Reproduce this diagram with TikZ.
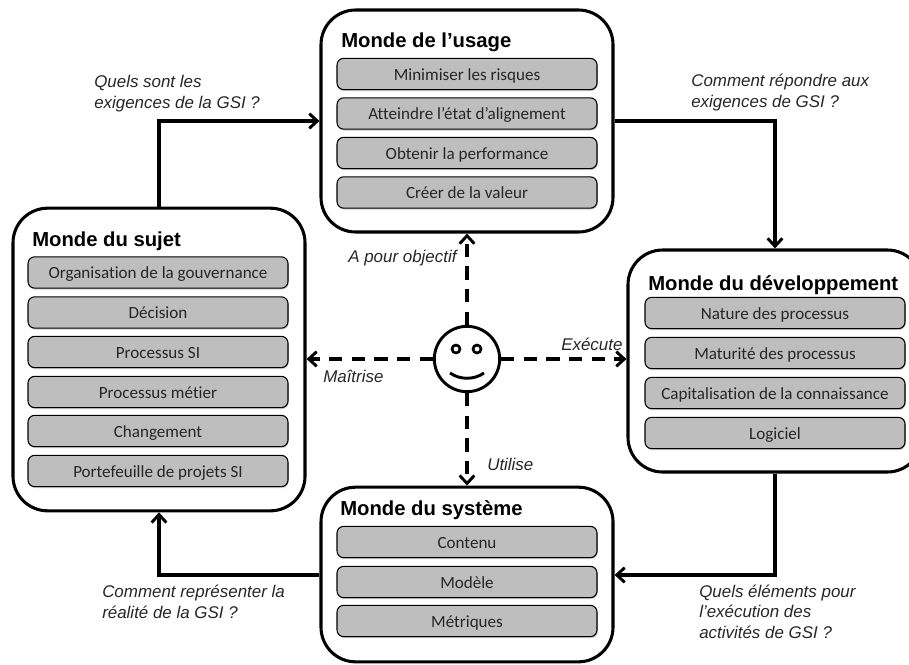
\documentclass[tikz,border=0pt]{standalone}
\usepackage{fontspec}
\setmainfont[Ligatures=NoCommon]{Carlito}
\newfontfamily\arialfont{Liberation Sans}
\usetikzlibrary{arrows.meta,shadows}
\definecolor{itemgray}{HTML}{BEBEBE}
\definecolor{itemtext}{HTML}{262626}
\tikzset{
    monde/.style={draw, line width=2.3pt, rounded corners=26pt, fill=white},
    titre/.style={anchor=base west, inner sep=0pt, font=\arialfont\bfseries\fontsize{15.2}{17}\selectfont},
    item/.style={draw=black, line width=0.8pt, fill=itemgray, text=itemtext, rounded corners=5pt, minimum width=195pt, minimum height=23.5pt, inner sep=0pt, text height=11pt, text depth=2pt, font=\fontsize{12.8}{14}\selectfont, drop shadow={shadow xshift=0.6pt, shadow yshift=-1pt, opacity=0.4}},
    flow/.style={line width=2.3pt, -{Straight Barb[length=6pt,width=11pt,line width=2.2pt]}},
    relation/.style={flow, dash pattern=on 10pt off 7pt},
    etiquette/.style={anchor=base west, inner sep=0pt, align=left, text=itemtext, font=\arialfont\itshape\fontsize{12.7}{15.2}\selectfont}
}
\begin{document}
\begin{tikzpicture}[x=0.75pt, y=-0.75pt]
    \useasboundingbox (0,0) rectangle (909,664);
    % mondes
    \node[monde, minimum width=219pt, minimum height=166.5pt] (usage) at (467,121) {};
    \node[monde, minimum width=219pt, minimum height=227pt] (sujet) at (159,359.5) {};
    \node[monde, minimum width=220.5pt, minimum height=166.5pt] (dev) at (775,361) {};
    \node[monde, minimum width=219pt, minimum height=131pt] (systeme) at (467,574.5) {};
    % titres
    \node[titre] (tusage) at (341,47) {Monde de l’usage};
    \node[titre] (tsujet) at (32,246) {Monde du sujet};
    \node[titre] (tdev) at (648,290) {Monde du développement};
    \node[titre] (tsysteme) at (340,515) {Monde du système};
    % usage
    \node[item] (u1) at (467,74) {Minimiser les risques};
    \node[item] (u2) at (467,113.5) {Atteindre l’état d’alignement};
    \node[item] (u3) at (467,153) {Obtenir la performance};
    \node[item] (u4) at (467,192.5) {Créer de la valeur};
    % sujet
    \node[item] (s1) at (158,272.5) {Organisation de la gouvernance};
    \node[item] (s2) at (158,312.5) {Décision};
    \node[item] (s3) at (158,352) {Processus SI};
    \node[item] (s4) at (158,392) {Processus métier};
    \node[item] (s5) at (158,431) {Changement};
    \node[item] (s6) at (158,471) {Portefeuille de projets SI};
    % developpement
    \node[item] (d1) at (775,313) {Nature des processus};
    \node[item] (d2) at (775,353) {Maturité des processus};
    \node[item] (d3) at (775,393) {Capitalisation de la connaissance};
    \node[item] (d4) at (775,433) {Logiciel};
    % systeme
    \node[item] (y1) at (467,542) {Contenu};
    \node[item] (y2) at (467,582) {Modèle};
    \node[item] (y3) at (467,621) {Métriques};
    % personnage
    \node[draw, circle, line width=2.2pt, minimum size=49pt, inner sep=0pt] (acteur) at (467,359) {};
    \node[draw, circle, line width=2pt, minimum size=6pt, inner sep=0pt] (oeilg) at (456,349) {};
    \node[draw, circle, line width=2pt, minimum size=6pt, inner sep=0pt] (oeild) at (477,349) {};
    \coordinate (bouchea) at (450,373);
    \coordinate (boucheb) at (484,373);
    \draw[line width=2.2pt] (bouchea) .. controls (460,380) and (474,380) .. (boucheb);
    % cycle
    \coordinate (c1) at (159,121);
    \coordinate (c2) at (775,121);
    \coordinate (c3) at (775,575);
    \coordinate (c4) at (159,575);
    \draw[flow] (c1 |- sujet.north) -- (c1) -- (usage.west |- c1);
    \draw[flow] (usage.east |- c2) -- (c2) -- (c2 |- dev.north);
    \draw[flow] (c3 |- dev.south) -- (c3) -- (systeme.east |- c3);
    \draw[flow] (systeme.west |- c4) -- (c4) -- (c4 |- sujet.south);
    % relations
    \draw[relation] (acteur.north) -- (acteur.north |- usage.south);
    \draw[relation] (acteur.south) -- (acteur.south |- systeme.north);
    \draw[relation] (acteur.west) -- (sujet.east |- acteur.west);
    \draw[relation] (acteur.east) -- (dev.west |- acteur.east);
    % etiquettes
    \node[etiquette] (e1) at (94,108) {Quels sont les\\exigences de la GSI ?};
    \node[etiquette] (e2) at (691,107) {Comment répondre aux\\exigences de GSI ?};
    \node[etiquette] (e3) at (102,618) {Comment représenter la\\réalité de la GSI ?};
    \node[etiquette] (e4) at (699,638) {Quels éléments pour\\l’exécution des\\activités de GSI ?};
    \node[etiquette] (e5) at (348,262) {A pour objectif};
    \node[etiquette] (e6) at (323,382) {Maîtrise};
    \node[etiquette] (e7) at (561,350) {Exécute};
    \node[etiquette] (e8) at (487,470) {Utilise};
\end{tikzpicture}
\end{document}
